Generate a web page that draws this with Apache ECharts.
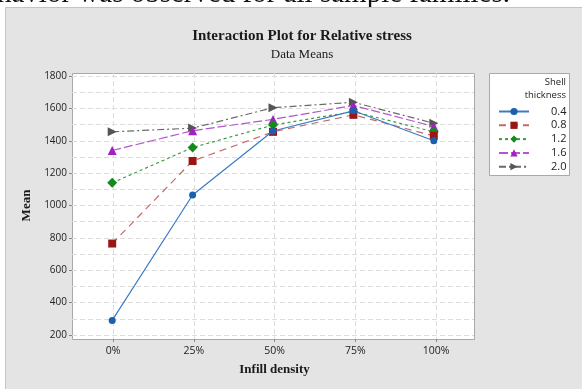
<!DOCTYPE html>
<html>
<head>
<meta charset="utf-8">
<script src="https://cdn.jsdelivr.net/npm/echarts@6/dist/echarts.min.js"></script>
<style>
  html, body { margin: 0; padding: 0; background: #fff; }
  #chart { width: 582px; height: 389px; }
</style>
</head>
<body>
<div id="chart"></div>
<script>
// infill density levels on the x axis
const categories = ['0%', '25%', '50%', '75%', '100%']
const shellLevels = ['0.4', '0.8', '1.2', '1.6', '2.0']

// mean relative stress per shell thickness
const mean04 = [290, 1065, 1460, 1585, 1400]
const mean08 = [765, 1275, 1455, 1560, 1430]
const mean12 = [1140, 1358, 1497, 1580, 1455]
const mean16 = [1340, 1462, 1532, 1618, 1488]
const mean20 = [1455, 1478, 1604, 1638, 1508]

const serif = '"Liberation Serif", "Times New Roman", serif'
const sans = '"Open Sans", "Noto Sans", sans-serif'

const styles = [
  { data: mean04, color: '#1b5fad', line: '#3a7cc4', type: 'solid', symbol: 'circle', size: 7, rotate: 0 },
  { data: mean08, color: '#9b1515', line: '#c46a6a', type: [7, 5], symbol: 'rect', size: 8, rotate: 0 },
  { data: mean12, color: '#138a1c', line: '#3d9c45', type: [3, 3], symbol: 'diamond', size: 10, rotate: 0 },
  { data: mean16, color: '#a21fc4', line: '#b555d0', type: [9, 3], symbol: 'triangle', size: 9, rotate: 0 },
  { data: mean20, color: '#555555', line: '#6a6a6a', type: [7, 3, 2, 3], symbol: 'triangle', size: 9, rotate: -90 }
]

const chart = echarts.init(document.getElementById('chart'))

chart.setOption({
  backgroundColor: '#ffffff',
  animation: false,
  title: {
    text: 'Interaction Plot for Relative stress',
    subtext: 'Data Means',
    left: 297,
    top: 24,
    textAlign: 'center',
    itemGap: 4,
    textStyle: { fontFamily: serif, fontSize: 15, fontWeight: 'bold', color: '#1a1a1a' },
    subtextStyle: { fontFamily: serif, fontSize: 13, color: '#1a1a1a' }
  },
  graphic: [
    {
      type: 'text', left: -3, top: -20, z: -30,
      style: { text: 'havior was observed for all sample families.', font: '29px ' + serif, fill: '#111' }
    },
    {
      type: 'rect', z: -20, shape: { x: 5.5, y: 7.5, width: 580, height: 385 },
      style: { fill: '#e4e4e4', stroke: '#c4c4c4', lineWidth: 1 }
    },
    {
      type: 'rect', z: -10, shape: { x: 72.5, y: 73.5, width: 402, height: 266 },
      style: { fill: '#ffffff', stroke: '#a9a9a9', lineWidth: 1 }
    },
    {
      type: 'rect', z: -10, shape: { x: 489.5, y: 73.5, width: 80, height: 102 },
      style: { fill: '#ffffff', stroke: '#a9a9a9', lineWidth: 1 }
    },
    {
      type: 'text', right: 16, top: 77, z: 5,
      style: { text: 'Shell', font: '9.5px ' + sans, fill: '#222', align: 'right' }
    },
    {
      type: 'text', right: 16, top: 90, z: 5,
      style: { text: 'thickness', font: '9.5px ' + sans, fill: '#222', align: 'right' }
    }
  ],
  legend: {
    orient: 'vertical',
    left: 493,
    top: 101,
    itemWidth: 30,
    itemHeight: 9,
    itemGap: 2.8,
    data: shellLevels,
    textStyle: { fontFamily: sans, fontSize: 11, color: '#222', padding: [0, 0, 0, 17] }
  },
  grid: [
    { left: 72, right: 108, top: 76, bottom: 54 },
    { left: 113, right: 146, top: 73, bottom: 50 }
  ],
  xAxis: [
    {
      gridIndex: 0, type: 'category', data: categories, boundaryGap: true, show: false
    },
    {
      gridIndex: 1, type: 'category', data: categories, boundaryGap: false,
      name: 'Infill density', nameLocation: 'middle', nameGap: 24,
      nameTextStyle: { fontFamily: serif, fontSize: 13, fontWeight: 'bold', color: '#1a1a1a' },
      axisLine: { show: false },
      axisTick: { show: true, length: 3, lineStyle: { color: '#888' } },
      axisLabel: { fontFamily: sans, fontSize: 10.5, color: '#222', margin: 7 },
      splitLine: { show: true, interval: 0, lineStyle: { color: '#dcdcdc', type: [5, 3] } }
    }
  ],
  yAxis: [
    {
      gridIndex: 0, type: 'value', min: 200, max: 1800, interval: 200,
      name: 'Mean', nameLocation: 'middle', nameGap: 32,
      nameTextStyle: { fontFamily: serif, fontSize: 13, fontWeight: 'bold', color: '#1a1a1a' },
      axisLine: { show: false },
      axisTick: { show: true, length: 3, lineStyle: { color: '#888' } },
      axisLabel: { fontFamily: sans, fontSize: 10, color: '#222', margin: 5, formatter: v => String(v) },
      splitLine: { show: true, lineStyle: { color: '#dcdcdc', type: [5, 3] } },
      minorTick: { show: false, splitNumber: 2 },
      minorSplitLine: { show: true, lineStyle: { color: '#dcdcdc', type: [5, 3] } }
    },
    { gridIndex: 1, type: 'value', show: false, splitLine: { show: false } }
  ],
  series: styles.map((s, i) => ({
    name: shellLevels[i],
    type: 'line',
    xAxisIndex: 0,
    yAxisIndex: 0,
    data: s.data,
    symbol: s.symbol,
    symbolSize: s.size,
    symbolRotate: s.rotate,
    z: 10 - i,
    itemStyle: { color: s.color },
    lineStyle: { color: s.line, width: 1.2, type: s.type }
  }))
})
</script>
</body>
</html>
